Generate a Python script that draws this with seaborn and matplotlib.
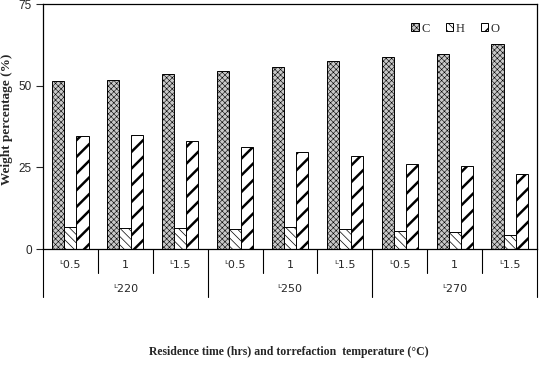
import pandas as pd
import seaborn as sns
import matplotlib.pyplot as plt
import matplotlib.transforms as mtransforms

# 数据
temps = ['220', '250', '270']
times = ['0.5', '1', '1.5']
time_labels = ['ᴸ0.5', '1', 'ᴸ1.5']
carbon = [51.4, 51.7, 53.6, 54.5, 55.7, 57.5, 58.8, 59.7, 62.7]
hydrogen = [6.7, 6.4, 6.4, 6.1, 6.6, 6.0, 5.4, 5.1, 4.2]
oxygen = [34.7, 35.0, 33.2, 31.3, 29.8, 28.4, 25.9, 25.3, 22.9]
elements = ['C', 'H', 'O']

cats = [t + '-' + r for t in temps for r in times]
df = pd.DataFrame({
    'cat': cats * 3,
    'element': ['C'] * 9 + ['H'] * 9 + ['O'] * 9,
    'value': carbon + hydrogen + oxygen,
})

sns.set_style('white')
plt.rcParams['font.family'] = ['Liberation Serif', 'DejaVu Serif']

fig = plt.figure(figsize=(5.39, 3.67), dpi=100)
ax = fig.add_axes([0.0798, 0.3215, 0.9165, 0.6675])

sns.barplot(data=df, x='cat', y='value', hue='element', order=cats,
            hue_order=elements, width=0.66, gap=0, ax=ax,
            palette=['#c8c8c8', 'white', 'white'], edgecolor='black',
            linewidth=0.7, saturation=1, errorbar=None, legend=True)

hatches = ['xxxxxx', '\\\\\\\\', '//']
hatch_lw = [0.4, 0.5, 1.8]


def put_hatch(p, h, hl):
    p.set_hatch(h)
    if hasattr(p, 'set_hatch_linewidth'):
        p.set_hatch_linewidth(hl)


for cont, h, hl in zip(ax.containers, hatches, hatch_lw):
    for p in cont:
        put_hatch(p, h, hl)

# 图例
handles, labels = ax.get_legend_handles_labels()
leg = ax.legend(handles, labels, ncol=3, frameon=False, loc='center',
                bbox_to_anchor=(0.835, 0.9), fontsize=9, handlelength=0.6,
                handleheight=0.6, handletextpad=0.2, columnspacing=1.3)
for hd, h, hl in zip(leg.legend_handles, hatches, hatch_lw):
    put_hatch(hd, h, min(hl, 1.0))

ax.set_ylim(0, 75)
ax.set_xlim(-0.5, 8.5)
ax.set_yticks([0, 25, 50, 75])
ax.set_yticklabels(['0', '25', '50', '75'], family=['Liberation Sans', 'DejaVu Sans'])
ax.tick_params(axis='y', length=5, width=0.8, labelsize=8.5, pad=3, left=True)
ax.set_xticks([])
ax.set_xlabel('')
for s in ax.spines.values():
    s.set_color('black')
    s.set_linewidth(0.9)
ax.set_ylabel('Weight percentage (%)', fontweight='bold', fontsize=9.5)
ax.yaxis.set_label_coords(-0.06, 0.53)

# 多级分类坐标轴
trans = mtransforms.blended_transform_factory(ax.transData, ax.transAxes)
for i in range(10):
    x = i - 0.5
    y_end = -0.196 if i % 3 == 0 else -0.098
    ax.plot([x, x], [0, y_end], color='black', lw=0.8, transform=trans, clip_on=False)
for i in range(9):
    ax.text(i, -0.065, time_labels[i % 3], transform=trans, ha='center', va='center',
            fontsize=8, family=['DejaVu Sans'])
for j, t in enumerate(temps):
    ax.text(j * 3 + 1, -0.163, 'ᴸ' + t, transform=trans, ha='center', va='center',
            fontsize=8, family=['DejaVu Sans'])

fig.text(0.535, 0.04, 'Residence time (hrs) and torrefaction  temperature (°C)',
         ha='center', va='center', fontweight='bold', fontsize=8.5)

fig.savefig('out.png', dpi=100)
